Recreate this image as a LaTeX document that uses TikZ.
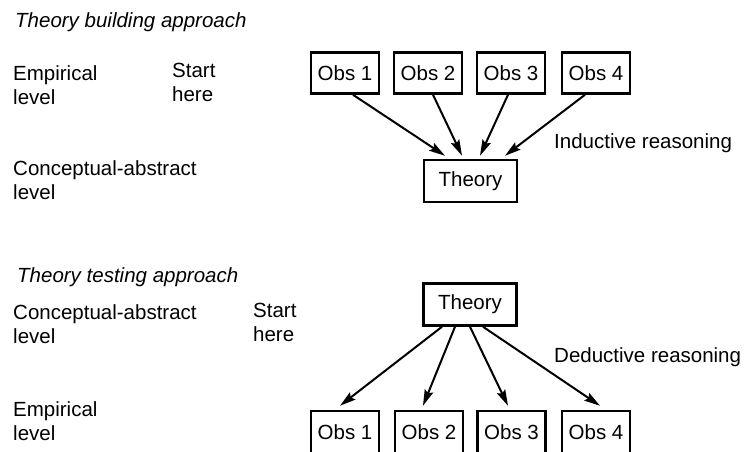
\documentclass[tikz,border=0pt]{standalone}
\usepackage{fontspec}
\setmainfont{Liberation Sans}
\usetikzlibrary{arrows.meta,calc}
\begin{document}
\begin{tikzpicture}[x=1pt,y=-1pt,
  every node/.style={font=\fontsize{20.5}{23.5}\selectfont},
  lbl/.style={anchor=base west, inner sep=0pt, align=left},
  ttl/.style={lbl, font=\fontsize{20.5}{23.5}\selectfont\itshape},
  obsbox/.style={draw, line width=2.5pt, minimum width=68pt, minimum height=41pt, inner sep=0pt},
  thbox/.style={draw, line width=2.5pt, minimum width=93pt, minimum height=42pt, inner sep=0pt},
  arr/.style={line width=2pt, -{Stealth[length=16pt,width=9pt,inset=2.5pt]}}
]
\useasboundingbox (0,0) rectangle (744,452);

% Theory building approach
\node[ttl] (title1) at (15,28) {Theory building approach};
\node[lbl] (emp1) at (13,104) {Empirical\\level};
\node[lbl] (start1) at (172,101) {Start\\here};
\node[lbl] (con1) at (13,199) {Conceptual-abstract\\level};
\node[lbl] (ind) at (554,148) {Inductive reasoning};

\node[obsbox] (o1) at (345,73) {Obs 1};
\node[obsbox] (o2) at (428,73) {Obs 2};
\node[obsbox] (o3) at (511,73) {Obs 3};
\node[obsbox] (o4) at (596,73) {Obs 4};
\node[thbox] (t1) at (470.5,181) {Theory};

\draw[arr] ([xshift=8pt]o1.south) -- ([xshift=-25.5pt,yshift=3pt]t1.north);
\draw[arr] ([xshift=5pt]o2.south) -- ([xshift=-8.5pt,yshift=3pt]t1.north);
\draw[arr] ([xshift=-3pt]o3.south) -- ([xshift=9.5pt,yshift=3pt]t1.north);
\draw[arr] ([xshift=-11pt]o4.south) -- ([xshift=34.5pt,yshift=3pt]t1.north);

% Theory testing approach
\node[ttl] (title2) at (17,282) {Theory testing approach};
\node[lbl] (con2) at (13,343) {Conceptual-abstract\\level};
\node[lbl] (start2) at (253,341) {Start\\here};
\node[lbl] (emp2) at (13,440) {Empirical\\level};
\node[lbl] (ded) at (554,362) {Deductive reasoning};

\node[thbox] (t2) at (470,304.5) {Theory};
\node[obsbox, minimum height=42pt] (p1) at (345,432) {Obs 1};
\node[obsbox, minimum height=42pt] (p2) at (429,432) {Obs 2};
\node[obsbox, minimum height=42pt] (p3) at (511.5,432) {Obs 3};
\node[obsbox, minimum height=42pt] (p4) at (596,432) {Obs 4};

\draw[arr] ([xshift=-28pt]t2.south) -- ([xshift=-5pt,yshift=4pt]p1.north);
\draw[arr] ([xshift=-15pt]t2.south) -- ([xshift=-6pt,yshift=4pt]p2.north);
\draw[arr] (t2.south) -- ([xshift=-3.5pt,yshift=4pt]p3.north);
\draw[arr] ([xshift=13pt]t2.south) -- ([xshift=4pt,yshift=4pt]p4.north);
\end{tikzpicture}
\end{document}
